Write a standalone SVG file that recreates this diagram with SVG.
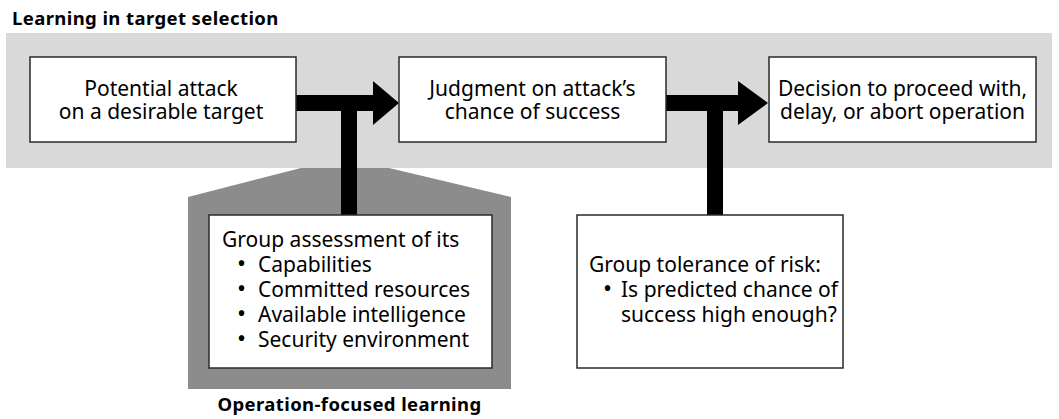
<svg xmlns="http://www.w3.org/2000/svg" width="1059" height="419" viewBox="0 0 1059 419">
<style>
  .box { fill: #ffffff; stroke: #2a2a2a; stroke-width: 1.5; }
  .t { font-family: "Noto Sans", "Liberation Sans", sans-serif; font-size: 21px; fill: #000; }
  .c { text-anchor: middle; }
  .dot { font-size: 24px; }
  .b { font-family: "Noto Sans", "Liberation Sans", sans-serif; font-size: 18.5px; font-weight: bold; fill: #000; letter-spacing: 0.4px; }
  .conn { fill: #000; stroke: none; }
</style>
<rect width="1059" height="419" fill="#ffffff"/>
<g id="region-target-selection">
  <rect x="6" y="33" width="1046" height="135" fill="#d9d9d9"/>
  <text class="b" x="12" y="25">Learning in target selection</text>
</g>
<g id="region-operation-learning">
  <polygon points="301,168 389,168 511,197 511,389 188,389 188,197" fill="#8c8c8c"/>
  <text class="b c" x="349.5" y="411">Operation-focused learning</text>
</g>
<g id="connectors">
  <polygon class="conn" points="296,95 373,95 373,81 399,103 373,125 373,111 357,111 357,215 341,215 341,111 296,111"/>
  <polygon class="conn" points="666,95 738,95 738,81 768,103 738,125 738,111 723,111 723,215 707,215 707,111 666,111"/>
</g>
<g id="node-potential-attack">
  <rect class="box" x="30" y="57" width="266" height="85"/>
  <text class="t c" x="161" y="96">Potential attack</text>
  <text class="t c" x="161" y="119">on a desirable target</text>
</g>
<g id="node-judgment">
  <rect class="box" x="399" y="57" width="267" height="85"/>
  <text class="t c" x="532.5" y="96">Judgment on attack’s</text>
  <text class="t c" x="532.5" y="119">chance of success</text>
</g>
<g id="node-decision">
  <rect class="box" x="769" y="57" width="267" height="85"/>
  <text class="t c" x="902.5" y="96">Decision to proceed with,</text>
  <text class="t c" x="902.5" y="119">delay, or abort operation</text>
</g>
<g id="node-group-assessment">
  <rect class="box" x="209" y="215" width="283" height="153"/>
  <text class="t" x="222" y="247">Group assessment of its</text>
  <text class="t" y="272"><tspan class="dot" x="237">•</tspan><tspan x="258">Capabilities</tspan></text>
  <text class="t" y="297"><tspan class="dot" x="237">•</tspan><tspan x="258">Committed resources</tspan></text>
  <text class="t" y="322"><tspan class="dot" x="237">•</tspan><tspan x="258">Available intelligence</tspan></text>
  <text class="t" y="347"><tspan class="dot" x="237">•</tspan><tspan x="258">Security environment</tspan></text>
</g>
<g id="node-risk-tolerance">
  <rect class="box" x="577" y="215" width="266" height="153"/>
  <text class="t" x="589" y="272">Group tolerance of risk:</text>
  <text class="t" y="297"><tspan class="dot" x="603">•</tspan><tspan x="621">Is predicted chance of</tspan></text>
  <text class="t" x="621" y="322">success high enough?</text>
</g>
</svg>
